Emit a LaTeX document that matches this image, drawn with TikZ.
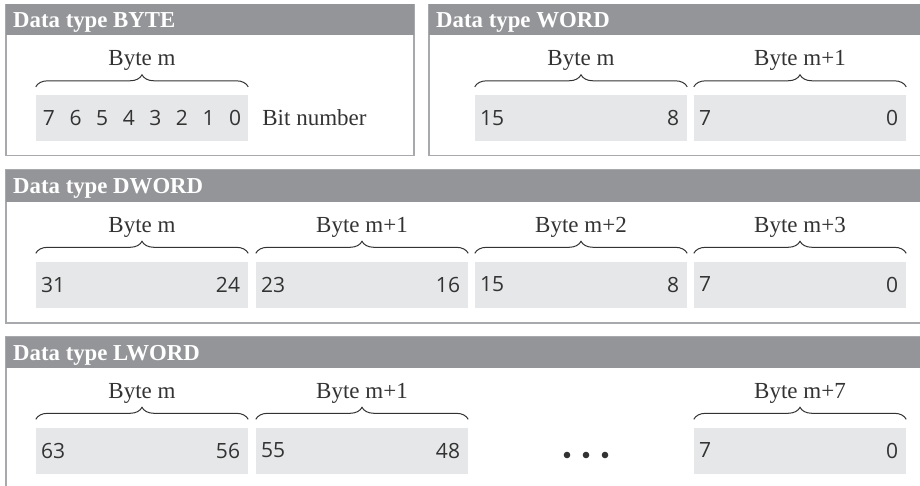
\documentclass[tikz,border=0pt]{standalone}
\usepackage{fontspec}
\setmainfont{Liberation Serif}
\newfontfamily\numfont{Open Sans}
\usetikzlibrary{
    positioning,
    decorations.pathreplacing
}
\definecolor{headgray}{HTML}{939598}
\definecolor{framegray}{HTML}{A7A9AC}
\definecolor{cellgray}{HTML}{E6E7E8}
\definecolor{inkgray}{HTML}{333333}

\begin{document}
\begin{tikzpicture}[
    x=1pt, y=-1pt,
    every node/.style={text=inkgray},
    panel_frame/.style={draw=framegray, line width=1.3pt},
    panel_head/.style={fill=headgray},
    head_text/.style={anchor=base west, inner sep=0pt, text=white, font=\fontsize{22.8pt}{24pt}\selectfont\bfseries},
    byte_cell/.style={rectangle, fill=cellgray, minimum width=212pt, minimum height=46pt, inner sep=0pt},
    bit_num/.style={inner sep=0pt, font=\numfont\fontsize{21pt}{23pt}\selectfont},
    byte_brace/.style={draw=inkgray, line width=1pt, decorate, decoration={brace, amplitude=12pt}},
    byte_label/.style={inner sep=0pt, font=\fontsize{23pt}{25pt}\selectfont},
    dot/.style={circle, fill=inkgray, inner sep=0pt, minimum size=6.6pt}
]
\clip (0,0) rectangle (920,486);

% panels
\draw[panel_frame] (6,4.5) rectangle (414,155.5);
\fill[panel_head] (6,4.5) rectangle (414,35);
\draw[panel_frame] (429,4.5) rectangle (930,155.5);
\fill[panel_head] (429,4.5) rectangle (930,35);
\draw[panel_frame] (6,170) rectangle (930,323);
\fill[panel_head] (6,170) rectangle (930,202);
\draw[panel_frame] (6,337) rectangle (930,500);
\fill[panel_head] (6,337) rectangle (930,368);

\node[head_text] (byte_head) at (13,27.5) {Data type BYTE};
\node[head_text] (word_head) at (436,27.5) {Data type WORD};
\node[head_text] (dword_head) at (13,194) {Data type DWORD};
\node[head_text] (lword_head) at (13,360.5) {Data type LWORD};

% BYTE
\node[byte_cell] (byte_m) at (142,118) {};
\foreach \b [count=\i from 0] in {7,6,...,0} {
    \node[bit_num] (bit\b) at (49+26.6*\i,118) {\b};
}
\node[byte_label, anchor=west, right=14pt of byte_m] (bit_caption) {Bit number};

% WORD, DWORD, LWORD
\foreach \c/\x/\y/\hi/\lo in {
    word_m/581/118/15/8, word_m1/800/118/7/0,
    dword_m/142/284.5/31/24, dword_m1/362/284.5/23/16,
    dword_m2/581/284.5/15/8, dword_m3/800/284.5/7/0,
    lword_m/142/450.5/63/56, lword_m1/362/450.5/55/48,
    lword_m7/800/450.5/7/0} {
    \node[byte_cell] (\c) at (\x,\y) {};
    \node[bit_num, anchor=west] (\c-hi) at ([xshift=5pt]\c.west) {\hi};
    \node[bit_num, anchor=east] (\c-lo) at ([xshift=-8pt]\c.east) {\lo};
}

\node[dot] (dot1) at (567,455) {};
\node[dot] (dot2) at (586,455) {};
\node[dot] (dot3) at (605,455) {};

% braces
\foreach \c/\t in {
    byte_m/Byte m, word_m/Byte m, word_m1/Byte m+1,
    dword_m/Byte m, dword_m1/Byte m+1, dword_m2/Byte m+2, dword_m3/Byte m+3,
    lword_m/Byte m, lword_m1/Byte m+1, lword_m7/Byte m+7} {
    \draw[byte_brace] ([yshift=8pt]\c.north west) -- ([yshift=8pt]\c.north east);
    \node[byte_label, anchor=base] (\c-lbl) at ([yshift=29pt]\c.north) {\t};
}

\end{tikzpicture}
\end{document}
